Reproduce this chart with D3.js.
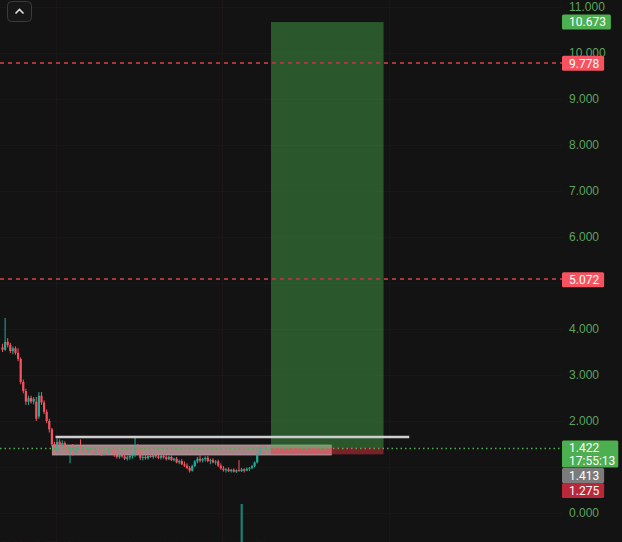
<!DOCTYPE html>
<meta charset="utf-8">
<title>Chart</title>
<style>
  html, body { margin: 0; padding: 0; background: #131313; }
  svg { display: block; font-family: Roboto, "Noto Sans", sans-serif; }
</style>
<svg width="622" height="542"></svg>
<script src="https://d3js.org/d3.v7.min.js"></script>
<script>
// candles: [open, high, low, close]
var candles = [
  [3.60,3.68,3.50,3.55],[3.55,4.24,3.52,3.72],[3.72,3.80,3.60,3.65],[3.65,3.70,3.48,3.52],
  [3.52,3.62,3.45,3.58],[3.58,3.62,3.44,3.48],[3.48,3.58,3.30,3.35],[3.35,3.38,2.80,2.85],
  [2.85,2.90,2.60,2.65],[2.65,2.70,2.35,2.42],[2.42,2.55,2.35,2.50],[2.50,2.55,2.38,2.42],
  [2.42,2.52,2.36,2.48],[2.42,2.52,2.00,2.05],[2.10,2.63,2.05,2.55],[2.55,2.63,2.35,2.40],
  [2.40,2.45,2.15,2.20],[2.20,2.25,1.95,2.00],[2.00,2.05,1.75,1.82],[1.82,1.85,1.45,1.50],
  [1.50,1.55,1.30,1.35],[1.35,1.62,1.32,1.55],[1.55,1.60,1.40,1.45],[1.45,1.58,1.42,1.52],
  [1.52,1.56,1.38,1.42],[1.42,1.48,1.30,1.35],[1.35,1.45,1.08,1.40],[1.40,1.50,1.25,1.30],
  [1.30,1.42,1.28,1.38],[1.38,1.45,1.32,1.42],[1.42,1.60,1.36,1.40],[1.40,1.46,1.33,1.44],
  [1.44,1.48,1.30,1.34],[1.34,1.42,1.30,1.39],[1.39,1.44,1.32,1.35],[1.35,1.40,1.26,1.30],
  [1.30,1.38,1.27,1.36],[1.36,1.40,1.28,1.31],[1.31,1.36,1.24,1.27],[1.27,1.34,1.25,1.32],
  [1.32,1.36,1.26,1.29],[1.29,1.40,1.27,1.37],[1.37,1.40,1.30,1.33],[1.33,1.38,1.22,1.26],
  [1.26,1.30,1.18,1.22],[1.22,1.30,1.18,1.28],[1.28,1.32,1.20,1.23],[1.23,1.28,1.15,1.18],
  [1.18,1.24,1.14,1.21],[1.21,1.26,1.16,1.24],[1.24,1.30,1.18,1.27],[1.27,1.65,1.22,1.45],
  [1.45,1.50,1.26,1.30],[1.30,1.36,1.15,1.20],[1.20,1.26,1.14,1.22],[1.22,1.28,1.16,1.19],
  [1.19,1.26,1.16,1.24],[1.24,1.30,1.20,1.22],[1.22,1.28,1.18,1.26],[1.26,1.30,1.20,1.23],
  [1.23,1.27,1.17,1.20],[1.20,1.26,1.16,1.24],[1.24,1.28,1.18,1.21],[1.21,1.25,1.14,1.17],
  [1.17,1.24,1.15,1.22],[1.22,1.25,1.13,1.15],[1.15,1.20,1.12,1.18],[1.18,1.22,1.08,1.10],
  [1.10,1.16,1.06,1.13],[1.13,1.17,1.04,1.06],[1.06,1.12,1.00,1.03],[1.03,1.08,0.95,0.98],
  [0.98,1.02,0.88,0.92],[0.92,1.05,0.90,1.02],[1.02,1.15,1.00,1.12],[1.12,1.22,1.08,1.18],
  [1.18,1.25,1.10,1.14],[1.14,1.20,1.10,1.17],[1.17,1.23,1.12,1.20],[1.20,1.24,1.10,1.13],
  [1.13,1.18,1.06,1.15],[1.15,1.19,1.08,1.10],[1.10,1.15,1.05,1.12],[1.12,1.16,1.00,1.03],
  [1.03,1.08,0.94,0.97],[0.97,1.02,0.90,0.93],[0.93,0.98,0.88,0.95],[0.95,0.99,0.89,0.91],
  [0.91,0.96,0.88,0.94],[0.94,0.97,0.88,0.90],[0.90,0.95,0.87,0.93],[0.93,1.15,0.90,0.91],
  [0.91,0.98,0.89,0.95],[0.95,0.97,0.88,0.92],[0.92,0.99,0.91,0.96],[0.96,1.00,0.91,0.98],
  [0.98,1.04,0.95,1.02],[1.02,1.12,0.99,1.10],[1.10,1.30,1.08,1.28],[1.28,1.45,1.25,1.42],
  [1.42,1.48,1.36,1.40],[1.40,1.45,1.38,1.42]
];
var volume = [
  0.2,0.3,0.2,0.2,0.1,0.2,0.2,0.3,0.2,0.2,0.1,0.1,0.1,0.2,0.2,0.1,0.1,0.2,0.2,0.3,
  0.2,0.2,0.1,0.1,0.1,0.1,0.2,0.1,0.1,0.1,0.1,0.1,0.1,0.1,0.1,0.1,0.1,0.1,0.1,0.1,
  0.1,0.1,0.1,0.1,0.1,0.1,0.1,0.1,0.1,0.1,0.1,0.2,0.1,0.1,0.1,0.1,0.1,0.1,0.1,0.1,
  0.1,0.1,0.1,0.1,0.1,0.1,0.1,0.1,0.1,0.1,0.1,0.1,0.1,0.1,0.1,0.1,0.1,0.1,0.1,0.1,
  0.1,0.1,0.1,0.1,0.1,0.1,0.1,0.1,0.1,0.1,0.1,0.1,100,0.1,0.1,0.1,0.1,0.1,0.2,0.2,
  0.1,0.1
];
var tickValues = [0, 2, 3, 4, 6, 7, 8, 9, 10, 11];
var gridValues = [0, 1, 2, 3, 4, 5, 6, 7, 8, 9, 10, 11];
var gridBars = [20.4, 84.6, 148.8];

var takeProfit = 10.673, entry = 1.413, stopLoss = 1.275, lastPrice = 1.422, countdown = "17:55:13";
var alertLevels = [9.778, 5.072];
var position = {from: 103.3, to: 146.6};
var rangeBox = {from: 19.2, to: 126.5, top: 1.478, bottom: 1.261};
var hLine = {from: 20.4, to: 156.5, price: 1.652};

var svg = d3.select("svg"),
  W = +svg.attr("width"), H = +svg.attr("height"),
  axisX = 562;

var x = d3.scaleLinear().domain([0, candles.length - 1]).range([2.5, 265]);
var y = d3.scaleLinear().domain([0, 11]).range([513, 7]);
var yv = d3.scaleLinear().domain([0, 100]).range([H, 504]);

var up = "#22ab94", down = "#f7525f";

// grid
svg.append("g").selectAll("line").data(gridValues).enter().append("line")
  .attr("x1", 0).attr("x2", axisX)
  .attr("y1", function(d) { return Math.round(y(d)) + 0.5; })
  .attr("y2", function(d) { return Math.round(y(d)) + 0.5; })
  .attr("stroke", "#1c1717");
svg.append("g").selectAll("line").data(gridBars).enter().append("line")
  .attr("x1", function(d) { return Math.round(x(d)) + 0.5; })
  .attr("x2", function(d) { return Math.round(x(d)) + 0.5; })
  .attr("y1", 0).attr("y2", H)
  .attr("stroke", "#1c1717");

// volume
svg.append("g").selectAll("rect").data(volume).enter().append("rect")
  .attr("x", function(d, i) { return x(i) - 1; })
  .attr("width", 2.2)
  .attr("y", function(d) { return yv(d); })
  .attr("height", function(d) { return H - yv(d); })
  .attr("fill", function(d, i) { return candles[i][3] >= candles[i][0] ? "#1d7f72" : "#9b3c44"; });

// range box drawing
svg.append("rect")
  .attr("x", x(rangeBox.from)).attr("width", x(rangeBox.to) - x(rangeBox.from))
  .attr("y", y(rangeBox.top)).attr("height", y(rangeBox.bottom) - y(rangeBox.top))
  .attr("fill", "rgb(155,124,126)")
  .attr("stroke", "rgba(200,180,180,0.7)");

// candles
var c = svg.append("g").selectAll("g").data(candles).enter().append("g");
c.append("line")
  .attr("x1", function(d, i) { return x(i); })
  .attr("x2", function(d, i) { return x(i); })
  .attr("y1", function(d) { return y(d[1]); })
  .attr("y2", function(d) { return y(d[2]); })
  .attr("stroke", function(d) { return d[3] >= d[0] ? up : down; })
  .attr("stroke-width", 1);
c.append("rect")
  .attr("x", function(d, i) { return x(i) - 1.1; })
  .attr("width", 2.2)
  .attr("y", function(d) { return y(Math.max(d[0], d[3])); })
  .attr("height", function(d) { return Math.max(1, Math.abs(y(d[0]) - y(d[3]))); })
  .attr("fill", function(d) { return d[3] >= d[0] ? up : down; });

// range box veil over candles
svg.append("rect")
  .attr("x", x(rangeBox.from)).attr("width", x(rangeBox.to) - x(rangeBox.from))
  .attr("y", y(rangeBox.top)).attr("height", y(rangeBox.bottom) - y(rangeBox.top))
  .attr("fill", "rgba(180,150,150,0.35)");

// long position
svg.append("rect")
  .attr("x", x(position.from)).attr("width", x(position.to) - x(position.from))
  .attr("y", y(takeProfit)).attr("height", y(entry) - y(takeProfit))
  .attr("fill", "rgba(76,175,80,0.44)");
svg.append("rect")
  .attr("x", x(position.from)).attr("width", x(position.to) - x(position.from))
  .attr("y", y(entry)).attr("height", y(stopLoss) - y(entry))
  .attr("fill", "rgba(242,54,69,0.45)");

// horizontal line drawing
svg.append("line")
  .attr("x1", x(hLine.from)).attr("x2", x(hLine.to))
  .attr("y1", y(hLine.price)).attr("y2", y(hLine.price))
  .attr("stroke", "#cfcfcf").attr("stroke-width", 2.5);

// alert lines (2px, aligned to even rows so the red survives image compression)
svg.append("g").selectAll("line").data(alertLevels).enter().append("line")
  .attr("x1", 0).attr("x2", axisX)
  .attr("y1", function(d) { return 2 * Math.floor(y(d) / 2) + 1; })
  .attr("y2", function(d) { return 2 * Math.floor(y(d) / 2) + 1; })
  .attr("shape-rendering", "crispEdges")
  .attr("stroke", "#a8363f").attr("stroke-width", 2).attr("stroke-dasharray", "4,4");

// last price line
svg.append("line")
  .attr("x1", 0).attr("x2", axisX)
  .attr("y1", Math.round(y(lastPrice)) + 0.5).attr("y2", Math.round(y(lastPrice)) + 0.5)
  .attr("stroke", "#4caf50").attr("stroke-width", 1.5).attr("stroke-dasharray", "1.5,3");

// price axis
var axis = svg.append("g")
  .attr("transform", "translate(" + axisX + ",0)")
  .call(d3.axisRight(y).tickValues(tickValues).tickSize(0).tickPadding(7).tickFormat(d3.format(".3f")));
axis.select(".domain").remove();
axis.selectAll("text").attr("fill", "#5da35d").attr("font-size", 12);

// price labels
function label(price, text, fill, cy, extra) {
  var g = svg.append("g");
  var r = g.append("rect").attr("x", axisX).attr("fill", fill).attr("rx", 1.5);
  var t = g.append("text").attr("x", axisX + 7).attr("y", cy).attr("dy", "0.36em")
    .attr("fill", "#fff").attr("font-size", 12).text(text);
  var w = t.node().getComputedTextLength() + 12;
  var h = 15, top = cy - 7.5;
  if (extra) {
    var t2 = g.append("text").attr("x", axisX + 7).attr("y", cy + 13).attr("dy", "0.36em")
      .attr("fill", "#fff").attr("font-size", 12).text(extra);
    w = t2.node().getComputedTextLength() + 10;
    h = 27;
  }
  r.attr("y", top).attr("height", h).attr("width", w);
}
label(takeProfit, d3.format(".3f")(takeProfit), "#4caf50", y(takeProfit));
alertLevels.forEach(function(p) { label(p, d3.format(".3f")(p), "#f7525f", y(p)); });
label(lastPrice, d3.format(".3f")(lastPrice), "#4caf50", y(lastPrice) + 0.5, countdown);
label(entry, d3.format(".3f")(entry), "#7b7b7b", y(lastPrice) + 28);
label(stopLoss, d3.format(".3f")(stopLoss), "#b8283a", y(lastPrice) + 43);

// top-left button
svg.append("rect").attr("x", 7.5).attr("y", 1.5).attr("width", 24).attr("height", 20).attr("rx", 4)
  .attr("fill", "#171717").attr("stroke", "#3a3a3a");
svg.append("path").attr("d", "M15.5,13.5L19.5,9.5L23.5,13.5")
  .attr("fill", "none").attr("stroke", "#e0e0e0").attr("stroke-width", 1.6);
</script>
